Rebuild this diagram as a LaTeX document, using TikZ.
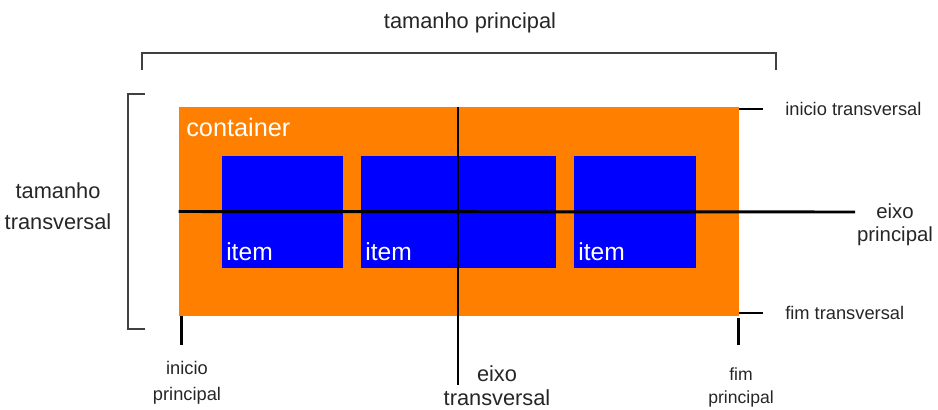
\documentclass[tikz,border=0pt]{standalone}
\usepackage{fontspec}
\setmainfont{Liberation Sans}
\usepackage{xcolor}
\usetikzlibrary{calc}
\definecolor{boxorange}{HTML}{FF8000}
\definecolor{itemblue}{HTML}{0000FF}
\begin{document}
\begin{tikzpicture}[x=0.025cm, y=-0.025cm,
  cont/.style={fill=boxorange, inner sep=0pt, minimum width=14cm, minimum height=5.225cm},
  flexitem/.style={fill=itemblue, inner sep=0pt, minimum height=2.8cm},
  itemtext/.style={font=\fontsize{17.5}{20}\selectfont, text=white, anchor=base west, inner sep=0pt},
  axisline/.style={line width=2.1pt},
  tickline/.style={line width=1.9pt},
  bracket/.style={line width=1.2pt, draw=black!75},
  big/.style={font=\fontsize{15.5}{21}\selectfont, align=center, text=black!85, inner sep=0pt},
  mid/.style={font=\fontsize{14.5}{17}\selectfont, align=center, text=black!85, inner sep=0pt},
  small/.style={font=\fontsize{13}{18.5}\selectfont, align=center, text=black!85, inner sep=0pt},
]
\useasboundingbox (0,0) rectangle (938,409);

% container
\node[cont] (cont) at (459,211.5) {};
\node[font=\fontsize{18}{20}\selectfont, text=white, anchor=base west, inner sep=0pt] (clbl) at (186,136) {container};

% items
\node[flexitem, minimum width=3.025cm] (i1) at (282.5,212) {};
\node[flexitem, minimum width=4.875cm] (i2) at (458.5,212) {};
\node[flexitem, minimum width=3.05cm] (i3) at (635,212) {};
\node[itemtext] (l1) at (226,260) {item};
\node[itemtext] (l2) at (365,260) {item};
\node[itemtext] (l3) at (578,260) {item};

% eixos
\coordinate (epEnd) at (855,212);
\coordinate (etEnd) at (458,385);
\draw[axisline] (cont.west) -- (epEnd);
\draw[axisline] (cont.north -| etEnd) -- (etEnd);
\node[mid, anchor=north] (ep) at (895,203) {eixo\\principal};
\node[big, anchor=north, font=\fontsize{15.5}{17.5}\selectfont] (et) at (497,365) {eixo\\transversal};

% inicio / fim transversal
\node[small, anchor=west] (it) at (785,109) {inicio transversal};
\node[small, anchor=west] (ft) at (785,313) {fim transversal};
\draw[tickline] (it.west -| cont.east) -- ++(24,0);
\draw[tickline] (ft.west -| cont.east) -- ++(24,0);

% inicio / fim principal
\node[small, anchor=north] (ip) at (187,361) {inicio\\principal};
\node[small, anchor=north, font=\fontsize{12.5}{16.5}\selectfont] (fp) at (741,367) {fim\\principal};
\draw[tickline] ([shift={(3,0)}]cont.south west) -- ++(0,29);
\draw[tickline] ([shift={(-1,2)}]cont.south east) -- ++(0,27);

% tamanhos
\coordinate (tpL) at (142,70);
\coordinate (tpR) at (776,70);
\draw[bracket] (tpL) -- ++(0,-17) -| (tpR);
\node[big] (tp) at (470,23) {tamanho principal};
\coordinate (ttT) at (145,94);
\coordinate (ttB) at (145,329);
\draw[bracket] (ttT) -- ++(-17,0) |- (ttB);
\node[big, anchor=north, font=\fontsize{15.5}{22}\selectfont] (tt) at (58,182) {tamanho\\transversal};
\end{tikzpicture}
\end{document}
